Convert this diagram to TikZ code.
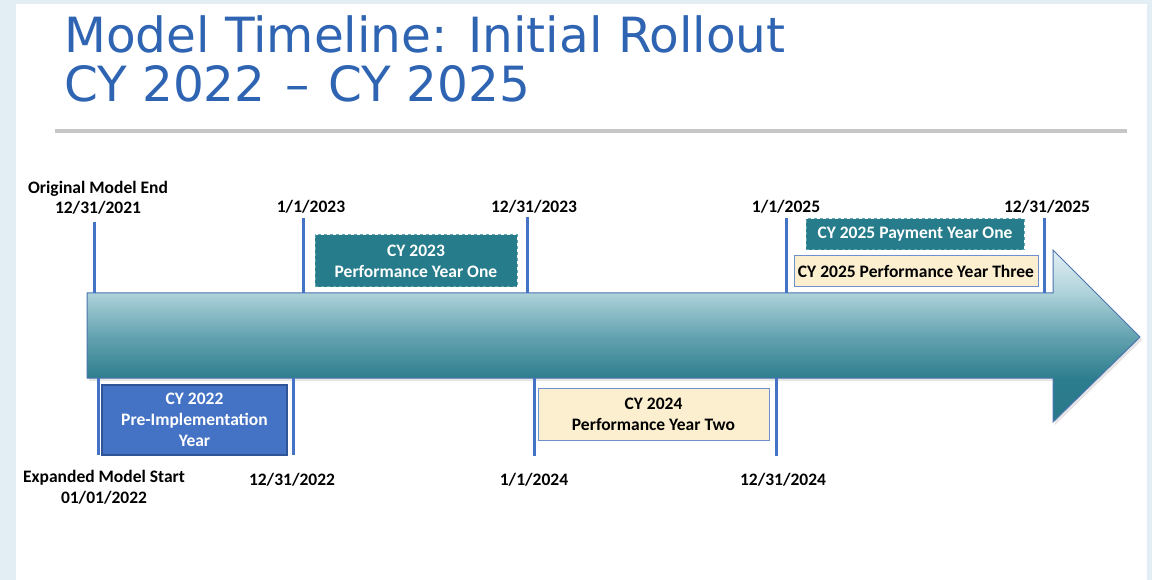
\documentclass[tikz,border=0pt]{standalone}
\usepackage{fontspec}
\newfontfamily\titlefont{DejaVu Sans}
\newfontfamily\bodyfont{Carlito}
\definecolor{bgblue}{HTML}{E2EEF3}
\definecolor{titleblue}{HTML}{2F64B3}
\definecolor{rulegray}{HTML}{C6C6C6}
\definecolor{tickblue}{HTML}{4472C4}
\definecolor{implblue}{HTML}{4472C4}
\definecolor{implborder}{HTML}{2F5597}
\definecolor{tealbox}{HTML}{267C8B}
\definecolor{tealdash}{HTML}{5FA5B2}
\definecolor{cream}{HTML}{FBEFCF}
\definecolor{creamborder}{HTML}{6F8FCF}
\definecolor{arrowA}{HTML}{E2EFF3}
\definecolor{arrowB}{HTML}{AED2DA}
\definecolor{arrowC}{HTML}{64A3B0}
\definecolor{arrowD}{HTML}{2C7D8D}
\definecolor{arrowE}{HTML}{287889}
\definecolor{arrowedge}{HTML}{4A74B0}
\pgfdeclareverticalshading{arrowshade}{100bp}{color(0bp)=(arrowE); color(25bp)=(arrowE); color(37.5bp)=(arrowD); color(50bp)=(arrowC); color(62.5bp)=(arrowB); color(75bp)=(arrowA); color(100bp)=(arrowA)}
\tikzset{
  datelbl/.style={font=\bodyfont\bfseries\fontsize{17.5}{21}\selectfont, text=black, anchor=base, inner sep=0pt},
  tick/.style={draw=tickblue, line width=3pt},
  implbox/.style={draw=implborder, line width=1.5pt, fill=implblue, text=white, align=center, inner sep=0pt,
    font=\bodyfont\bfseries\fontsize{17.5}{21}\selectfont},
  tealbx/.style={draw=tealdash, dashed, line width=1pt, fill=tealbox, text=white, align=center, inner sep=0pt,
    font=\bodyfont\bfseries\fontsize{17.5}{21}\selectfont},
  creambx/.style={draw=creamborder, line width=1pt, fill=cream, text=black, align=center, inner sep=0pt,
    font=\bodyfont\bfseries\fontsize{17.5}{21}\selectfont},
}
\begin{document}
\begin{tikzpicture}[x=1pt,y=-1pt]
\useasboundingbox (0,0) rectangle (1152,580);
\fill[bgblue] (0,0) rectangle (1152,580);
\fill[white] (16,4) rectangle (1147,580);
% title
\node[font=\titlefont\fontsize{48.5}{49}\selectfont, text=titleblue, anchor=base west, inner sep=0pt] (t1) at (64,53) {Model Timeline: Initial Rollout};
\node[font=\titlefont\fontsize{48.5}{49}\selectfont, text=titleblue, anchor=base west, inner sep=0pt] (t2) at (64,102) {CY 2022 \hspace{4pt}–\hspace{4pt} CY 2025};
\draw[rulegray, line width=4pt] (55,131) -- (1127,131);
% arrow shadow
\fill[black, opacity=0.10] (89,296) -- (1055,296) -- (1055,253) -- (1142,340) -- (1055,425) -- (1055,381) -- (89,381) -- cycle;
% arrow
\shade[shading=arrowshade, draw=arrowedge, line width=1pt]
  (87,293) -- (1053,293) -- (1053,250) -- (1140,337) -- (1053,422) -- (1053,378) -- (87,378) -- cycle;
% tick coordinates
\coordinate (a1) at (94,222);  \coordinate (a2) at (94,293);
\coordinate (b1) at (303,218); \coordinate (b2) at (303,293);
\coordinate (c1) at (527,217); \coordinate (c2) at (527,293);
\coordinate (d1) at (786,218); \coordinate (d2) at (786,293);
\coordinate (e1) at (1044,218);\coordinate (e2) at (1044,293);
\coordinate (f1) at (98,378);  \coordinate (f2) at (98,455);
\coordinate (g1) at (293,378); \coordinate (g2) at (293,455);
\coordinate (h1) at (534,378); \coordinate (h2) at (534,456);
\coordinate (i1) at (776,378); \coordinate (i2) at (776,456);
\foreach \p in {a,b,c,d,e,f,g,h,i} \draw[tick] (\p1) -- (\p2);
% top labels
\node[datelbl] (l1a) at (98,194) {Original Model End};
\node[datelbl] (l1b) at (98,214) {12/31/2021};
\node[datelbl] (l2) at (311,213) {1/1/2023};
\node[datelbl] (l3) at (534,213) {12/31/2023};
\node[datelbl] (l4) at (786,213) {1/1/2025};
\node[datelbl] (l5) at (1047,213) {12/31/2025};
% bottom labels
\node[datelbl] (l6a) at (104,482) {Expanded Model Start};
\node[datelbl] (l6b) at (104,503) {01/01/2022};
\node[datelbl] (l7) at (292,485) {12/31/2022};
\node[datelbl] (l8) at (534,485) {1/1/2024};
\node[datelbl] (l9) at (783,485) {12/31/2024};
% boxes
\node[implbox, minimum width=185pt, minimum height=70pt] (bx22) at (194.5,420) {CY 2022\\Pre-Implementation\\Year};
\node[tealbx, minimum width=202pt, minimum height=52pt] (bx23) at (416,261) {CY 2023\\Performance Year One};
\node[creambx, minimum width=231pt, minimum height=52pt] (bx24) at (653.5,414) {CY 2024\\Performance Year Two};
\node[tealbx, minimum width=218pt, minimum height=31pt] (bx25p) at (915,234.5) {CY 2025 Payment Year One};
\node[creambx, minimum width=244pt, minimum height=31pt] (bx25) at (916,271.5) {CY 2025 Performance Year Three};
\end{tikzpicture}
\end{document}
